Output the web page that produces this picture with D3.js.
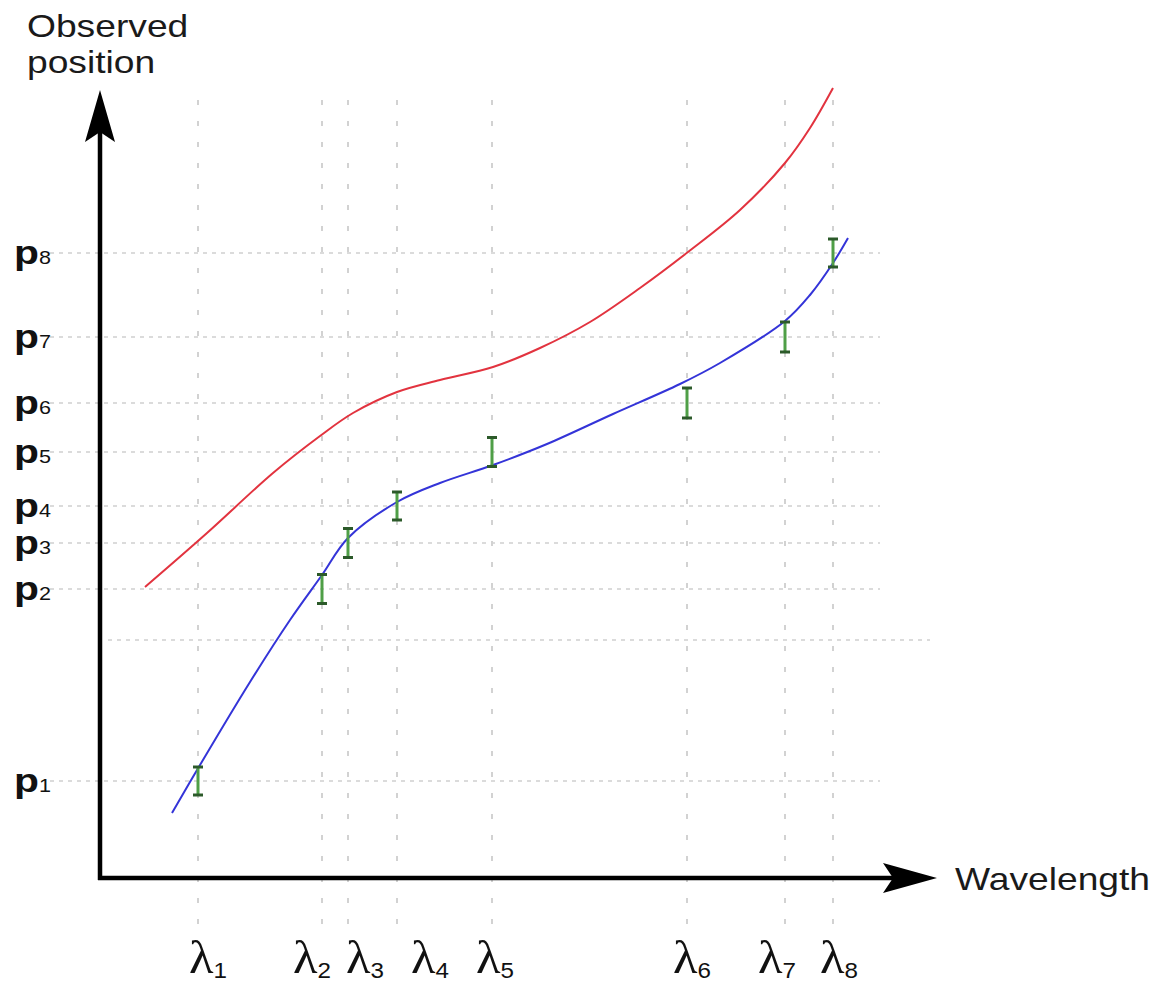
<!DOCTYPE html>
<html><head><meta charset="utf-8">
<script src="https://cdn.jsdelivr.net/npm/d3@7"></script>
<style>html,body{margin:0;padding:0;background:#fff;} svg{display:block}</style>
</head><body>
<svg id="chart" width="1161" height="988"></svg>
<script>
// ---- data ----
const lambdaNames = ["1","2","3","4","5","6","7","8"];
const lambdaValues = [0.98, 2.22, 2.48, 2.97, 3.92, 5.87, 6.85, 7.33];
const pNames = ["1","2","3","4","5","6","7","8"];
const pValues = [0.97, 2.89, 3.35, 3.72, 4.26, 4.75, 5.41, 6.25];
const pErrors = [0.14, 0.145, 0.145, 0.14, 0.145, 0.15, 0.15, 0.14];
const extraGridY = [2.38];
const fitWavelength = [0.72, 1.00, 1.50, 1.90, 2.22, 2.48, 2.97, 3.40, 3.93, 4.47, 5.13, 5.80, 6.20, 6.85, 7.10, 7.33, 7.48];
const fitPosition   = [0.65, 1.13, 1.96, 2.58, 3.03, 3.40, 3.76, 3.95, 4.13, 4.34, 4.64, 4.94, 5.15, 5.57, 5.83, 6.15, 6.40];
const modelWavelength = [0.45, 1.07, 1.73, 2.20, 2.53, 2.97, 3.40, 3.93, 4.40, 4.90, 5.40, 5.88, 6.40, 6.85, 7.10, 7.33];
const modelPosition   = [2.91, 3.45, 4.05, 4.42, 4.65, 4.86, 4.98, 5.11, 5.30, 5.56, 5.90, 6.26, 6.68, 7.15, 7.50, 7.90];
const xAxisTitle = "Wavelength";
const yAxisTitle = ["Observed", "position"];

// ---- layout ----
const svg = d3.select("#chart");
const x = d3.scaleLinear().domain([0, 9]).range([100, 1000]);
const y = d3.scaleLinear().domain([0, 8]).range([878, 78]);
const xAxisEnd = 8.37, yAxisEnd = 7.88;
const lambdaLabelDx = [10, -10, 17, 33, 3, 5, -8, 6];
const stretch = 1.2;

// gridlines
const grid = svg.append("g");
grid.selectAll("line.h").data(pValues).enter().append("line")
  .attr("x1", x(-0.5)).attr("x2", x(7.8))
  .attr("y1", d => y(d)).attr("y2", d => y(d))
  .attr("stroke", "#cfcfcf").attr("stroke-width", 1.5).attr("stroke-dasharray", "4,5");
grid.selectAll("line.e").data(extraGridY).enter().append("line")
  .attr("x1", x(0.08)).attr("x2", x(8.3))
  .attr("y1", d => y(d)).attr("y2", d => y(d))
  .attr("stroke", "#cfcfcf").attr("stroke-width", 1.5).attr("stroke-dasharray", "4,5");
grid.selectAll("line.v").data(lambdaValues).enter().append("line")
  .attr("x1", d => x(d)).attr("x2", d => x(d))
  .attr("y1", y(7.78)).attr("y2", y(-0.57))
  .attr("stroke", "#d2d2d2").attr("stroke-width", 2).attr("stroke-dasharray", "5,16");

// curves
const line = d3.line().x(d => x(d[0])).y(d => y(d[1])).curve(d3.curveCatmullRom.alpha(0.5));
svg.append("path").datum(d3.zip(modelWavelength, modelPosition))
  .attr("d", line).attr("fill", "none").attr("stroke", "#e2333f").attr("stroke-width", 2);
svg.append("path").datum(d3.zip(fitWavelength, fitPosition))
  .attr("d", line).attr("fill", "none").attr("stroke", "#3434d8").attr("stroke-width", 2);

// error bars
const eb = svg.append("g").selectAll("g").data(d3.range(lambdaValues.length)).enter().append("g");
eb.append("line")
  .attr("x1", i => x(lambdaValues[i])).attr("x2", i => x(lambdaValues[i]))
  .attr("y1", i => y(pValues[i] - pErrors[i])).attr("y2", i => y(pValues[i] + pErrors[i]))
  .attr("stroke", "#4f9f47").attr("stroke-width", 3);
[-1, 1].forEach(s => {
  eb.append("line")
    .attr("x1", i => x(lambdaValues[i]) - 5).attr("x2", i => x(lambdaValues[i]) + 5)
    .attr("y1", i => y(pValues[i] + s * pErrors[i])).attr("y2", i => y(pValues[i] + s * pErrors[i]))
    .attr("stroke", "#2c5a2a").attr("stroke-width", 3);
});

// axes
const ax = svg.append("g");
ax.append("line").attr("x1", x(0)).attr("x2", x(0)).attr("y1", y(0) + 2).attr("y2", y(yAxisEnd) + 40)
  .attr("stroke", "#000").attr("stroke-width", 4.5);
ax.append("line").attr("x1", x(0) - 2).attr("x2", x(xAxisEnd) - 40).attr("y1", y(0)).attr("y2", y(0))
  .attr("stroke", "#000").attr("stroke-width", 4.5);
const tx = x(0), ty = y(yAxisEnd);
ax.append("path").attr("d", `M${tx},${ty} L${tx + 15},${ty + 52} L${tx},${ty + 42} L${tx - 15},${ty + 52} Z`).attr("fill", "#000");
const hx = x(xAxisEnd), hy = y(0);
ax.append("path").attr("d", `M${hx},${hy} L${hx - 54},${hy - 15} L${hx - 44},${hy} L${hx - 54},${hy + 15} Z`).attr("fill", "#000");

// axis titles
yAxisTitle.forEach((t, i) => {
  svg.append("text").attr("transform", `translate(27,${37 + i * 36}) scale(${stretch},1)`)
    .attr("font-family", "Liberation Sans, Arial, sans-serif").attr("font-size", 31).attr("fill", "#1a1a1a").text(t);
});
svg.append("text").attr("transform", `translate(955,890) scale(${stretch},1)`)
  .attr("font-family", "Liberation Sans, Arial, sans-serif").attr("font-size", 31).attr("fill", "#1a1a1a").text(xAxisTitle);

// p labels
const pl = svg.append("g").selectAll("text").data(pValues).enter().append("text")
  .attr("transform", d => `translate(14,${y(d) + 11}) scale(${stretch},1)`)
  .attr("font-family", "Liberation Sans, Arial, sans-serif").attr("fill", "#111");
pl.append("tspan").attr("font-weight", "bold").attr("font-size", 34).text("p");
pl.append("tspan").attr("font-size", 18).text((d, i) => pNames[i]);

// lambda labels
const ll = svg.append("g").selectAll("text").data(lambdaValues).enter().append("text")
  .attr("transform", (d, i) => `translate(${x(d) + lambdaLabelDx[i]},973) scale(1.1,1)`)
  .attr("text-anchor", "middle").attr("fill", "#111");
ll.append("tspan").attr("font-family", "Liberation Serif, Times New Roman, serif").attr("font-size", 46).text("λ");
ll.append("tspan").attr("font-family", "Liberation Sans, Arial, sans-serif").attr("font-size", 22).attr("dy", 5).text((d, i) => lambdaNames[i]);
</script>
</body></html>
